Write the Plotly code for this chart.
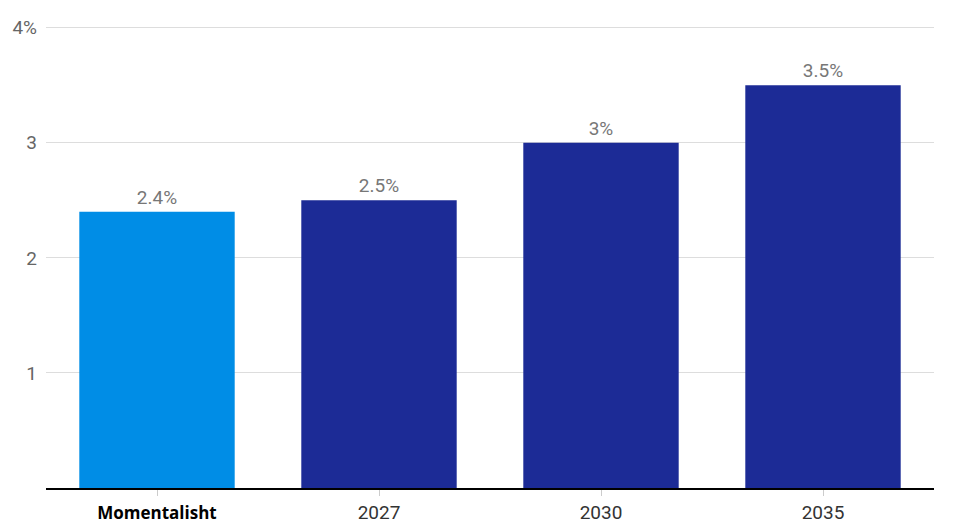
import plotly.graph_objects as go

# data
categories = ["Momentalisht", "2027", "2030", "2035"]
values = [2.4, 2.5, 3.0, 3.5]
value_labels = ["2.4%", "2.5%", "3%", "3.5%"]
bar_colors = ["#008de6", "#1c2b96", "#1c2b96", "#1c2b96"]
tick_vals = [1, 2, 3, 4]
tick_text = ["1", "2", "3", "4%"]

font_main = "Roboto, Liberation Sans Narrow, sans-serif"

x_ticktext = []
for c in categories:
    if c == "Momentalisht":
        x_ticktext.append("<span style='font-family:Open Sans, Carlito, sans-serif;"
                          "font-size:17px;color:#000'><b>" + c + "</b></span>")
    else:
        x_ticktext.append(c)

fig = go.Figure()
fig.add_trace(go.Bar(
    x=categories,
    y=values,
    marker=dict(color=bar_colors, line=dict(width=0)),
    text=value_labels,
    textposition="outside",
    textfont=dict(family=font_main, size=19, color="#777777"),
    cliponaxis=False,
    hoverinfo="skip",
))

fig.update_layout(
    width=980,
    height=532,
    margin=dict(l=38, r=54, t=14, b=52, autoexpand=False),
    paper_bgcolor="white",
    plot_bgcolor="white",
    bargap=0.3,
    showlegend=False,
    font=dict(family=font_main, size=18, color="#666666"),
)

fig.update_xaxes(
    tickmode="array",
    tickvals=categories,
    ticktext=x_ticktext,
    ticks="outside",
    ticklen=6,
    tickcolor="#cccccc",
    showline=True,
    linecolor="#000000",
    linewidth=1.5,
    showgrid=False,
    automargin=False,
    tickfont=dict(family=font_main, size=19, color="#333333"),
)

fig.update_yaxes(
    range=[0, 4.05],
    tickmode="array",
    tickvals=tick_vals,
    ticktext=tick_text,
    showgrid=True,
    gridcolor="#dddddd",
    gridwidth=1,
    zeroline=False,
    showline=False,
    ticks="",
    automargin=False,
    ticklabelstandoff=8,
    tickfont=dict(family=font_main, size=19, color="#666666"),
)

fig.write_html("out.html")
